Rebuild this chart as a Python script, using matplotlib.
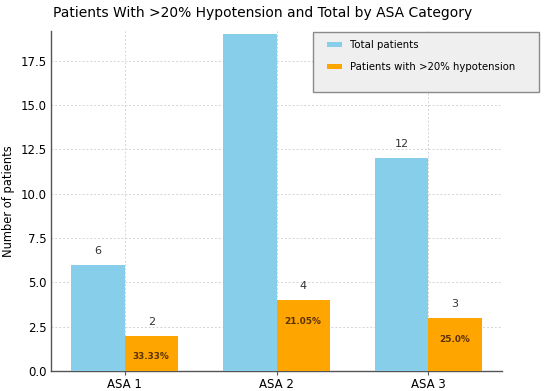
import matplotlib
matplotlib.use("Agg")
import matplotlib.pyplot as plt
import numpy as np
from matplotlib.patches import Rectangle

categories = ["ASA 1", "ASA 2", "ASA 3"]
total_patients = [6, 19, 12]
hypotension_patients = [2, 4, 3]
percent_labels = ["33.33%", "21.05%", "25.0%"]

YMAX = 19.17

fig = plt.figure(figsize=(5.5, 3.91), dpi=100)
ax = fig.add_axes([0.0927, 0.0512, 0.8203, 0.8695])

x = np.arange(len(categories))
w = 0.35
b1 = ax.bar(x - w/2, total_patients, w, color="#87CEEB", label="Total patients", zorder=3)
b2 = ax.bar(x + w/2, hypotension_patients, w, color="#FFA500", label="Patients with >20% hypotension", zorder=3)

def count_label(rect, v):
    # labels that would fall above the plotting area are not shown (as in the reference)
    if v + 0.5 < YMAX:
        ax.text(rect.get_x() + rect.get_width()/2, v + 0.5, str(v), ha="center", va="bottom",
                fontsize=8, color="#333333", zorder=4)

for rect, v in zip(b1, total_patients):
    count_label(rect, v)
for rect, v, p in zip(b2, hypotension_patients, percent_labels):
    count_label(rect, v)
    ax.text(rect.get_x() + rect.get_width()/2, v - 1.2, p, ha="center", va="center",
            fontsize=6.4, color="#5a3200", fontweight="bold", zorder=4)

ax.set_xticks(x)
ax.set_xticklabels(categories, fontsize=8.5)
ax.set_yticks(np.arange(0, 18.0, 2.5))
ax.tick_params(axis="y", labelsize=8.5, length=0, pad=3)
ax.tick_params(axis="x", length=3, color="#555555", pad=2)
ax.set_ylim(0, YMAX)
ax.set_ylabel("Number of patients", fontsize=8.3, labelpad=4)
ax.set_title("Patients With >20% Hypotension and Total by ASA Category", fontsize=10, pad=10, x=0.468)
ax.grid(True, linestyle=(0, (2, 2)), color="#d3d3d3", linewidth=0.7, zorder=0)
ax.set_axisbelow(True)
for s in ["top", "right"]:
    ax.spines[s].set_visible(False)
for s in ["left", "bottom"]:
    ax.spines[s].set_color("#555555")
    ax.spines[s].set_linewidth(1.0)

# legend box
rect = Rectangle((313/550, 1 - 92/391), (539-313)/550, (92-32)/391, transform=fig.transFigure,
                 facecolor="#efefef", edgecolor="#8a8a8a", linewidth=1.0, zorder=4, clip_on=False)
ax.add_artist(rect)
leg = ax.legend(loc="upper left", bbox_to_anchor=(319/550, 1 - 32/391), bbox_transform=fig.transFigure,
                frameon=False, fontsize=7.3, handlelength=1.5, handleheight=0.45, labelspacing=1.2,
                handletextpad=0.8, borderpad=0.3)
leg.set_zorder(5)

fig.savefig("out.png", dpi=100)
